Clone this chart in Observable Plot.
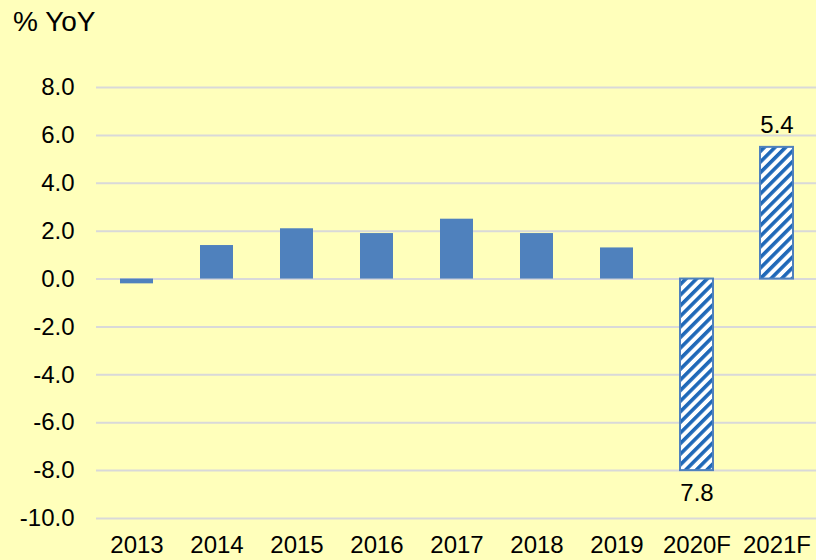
<!DOCTYPE html>
<html>
<head>
<meta charset="utf-8">
<script src="https://cdn.jsdelivr.net/npm/d3@7"></script>
<script src="https://cdn.jsdelivr.net/npm/@observablehq/plot@0.6"></script>
<style>
  html, body { margin: 0; padding: 0; background: #FFFFBB; width: 816px; height: 560px; overflow: hidden; }
  #title { height: 50px; font-family: "Liberation Sans", Arial, sans-serif; font-size: 28px; color: #000; padding-left: 13px; line-height: 44px; box-sizing: border-box; }
  svg { display: block; }
</style>
</head>
<body>
<div id="title">% YoY</div>
<div id="chart"></div>
<script>
const years = ["2013", "2014", "2015", "2016", "2017", "2018", "2019", "2020F", "2021F"];
const values = [-0.2, 1.4, 2.1, 1.9, 2.5, 1.9, 1.3, -8.0, 5.5];
const forecast = [false, false, false, false, false, false, false, true, true];
const labelYears = ["2020F", "2021F"];
const labelTexts = ["7.8", "5.4"];
const yTicks = [-10, -8, -6, -4, -2, 0, 2, 4, 6, 8];

const data = years.map((y, i) => ({year: y, value: values[i], forecast: forecast[i]}));
const labels = labelYears.map((y, i) => ({year: y, text: labelTexts[i], value: values[years.indexOf(y)]}));

const font = "Liberation Sans, Arial, sans-serif";
const fs = 24;

const chart = Plot.plot({
  width: 816,
  height: 510,
  marginTop: 37,
  marginBottom: 42,
  marginLeft: 96,
  marginRight: 0,
  style: {background: "#FFFFBB", fontFamily: font, fontSize: fs + "px", color: "#000", overflow: "visible"},
  x: {domain: years, paddingInner: 0.59, paddingOuter: 0.295},
  y: {domain: [-10, 8]},
  marks: [
    Plot.ruleY(yTicks, {stroke: "#d9d9d9", strokeWidth: 2, strokeOpacity: 1}),
    Plot.barY(data.filter(d => !d.forecast), {x: "year", y: "value", fill: "#4F81BD"}),
    Plot.barY(data.filter(d => d.forecast), {x: "year", y: "value", fill: "url(#hatch)", stroke: "#4F81BD", strokeWidth: 2}),
    Plot.axisX({label: null, tickSize: 0, tickPadding: 17, fontSize: fs, fill: "#000"}),
    Plot.axisY({ticks: yTicks, label: null, tickSize: 0, tickPadding: 22, tickFormat: d => d.toFixed(1), fontSize: fs, fill: "#000"}),
    Plot.text(labels.filter(d => d.value >= 0), {x: "year", y: "value", text: "text", dy: -22, fontSize: fs, fill: "#000"}),
    Plot.text(labels.filter(d => d.value < 0), {x: "year", y: "value", text: "text", dy: 23, fontSize: fs, fill: "#000"})
  ]
});

const svg = d3.select(chart);
const defs = svg.insert("defs", ":first-child");
const pat = defs.append("pattern")
  .attr("id", "hatch")
  .attr("patternUnits", "userSpaceOnUse")
  .attr("width", 7.5)
  .attr("height", 7.5)
  .attr("patternTransform", "rotate(45)");
pat.append("rect").attr("width", 7.5).attr("height", 7.5).attr("fill", "#ffffff");
pat.append("rect").attr("width", 3.6).attr("height", 7.5).attr("fill", "#1f68b8");

document.getElementById("chart").appendChild(chart);
</script>
</body>
</html>
